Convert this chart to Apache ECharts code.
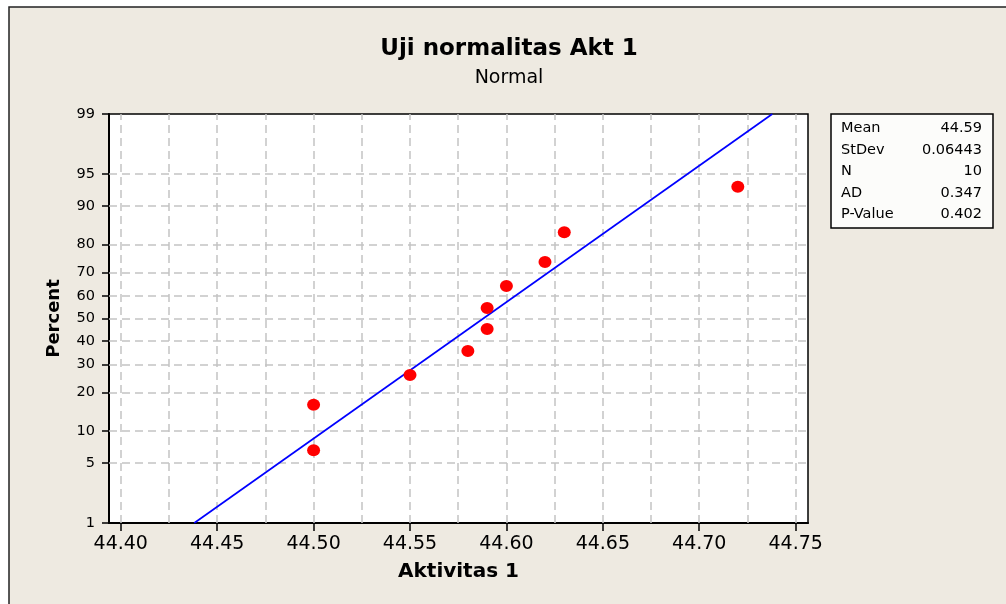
<!DOCTYPE html>
<html>
<head>
<meta charset="utf-8">
<title>Uji normalitas Akt 1</title>
<script src="https://cdn.jsdelivr.net/npm/echarts@6/dist/echarts.min.js"></script>
<style>
  html, body { margin: 0; padding: 0; background: #fff; }
  #chart { width: 1006px; height: 604px; }
</style>
</head>
<body>
<div id="chart"></div>
<script>
// data
const xValues = [44.50, 44.50, 44.55, 44.58, 44.59, 44.59, 44.60, 44.62, 44.63, 44.72]
const percentValues = [6.7, 16.3, 26.0, 35.6, 45.2, 54.8, 64.4, 74.0, 83.7, 93.3]
const yTickPercents = [1, 5, 10, 20, 30, 40, 50, 60, 70, 80, 90, 95, 99]
const yGridPercents = [5, 10, 20, 30, 40, 50, 60, 70, 80, 90, 95]
const xTickValues = [44.40, 44.45, 44.50, 44.55, 44.60, 44.65, 44.70, 44.75]
const xGridValues = [44.40, 44.425, 44.45, 44.475, 44.50, 44.525, 44.55, 44.575, 44.60,
  44.625, 44.65, 44.675, 44.70, 44.725, 44.75]
const statLabels = ['Mean', 'StDev', 'N', 'AD', 'P-Value']
const statValues = ['44.59', '0.06443', '10', '0.347', '0.402']

// inverse normal cdf (Acklam) - the probability scale of the y axis
function normInv (p) {
  const a = [-3.969683028665376e+01, 2.209460984245205e+02, -2.759285104469687e+02, 1.383577518672690e+02, -3.066479806614716e+01, 2.506628277459239e+00]
  const b = [-5.447609879822406e+01, 1.615858368580409e+02, -1.556989798598866e+02, 6.680131188771972e+01, -1.328068155288572e+01]
  const c = [-7.784894002430293e-03, -3.223964580411365e-01, -2.400758277161838e+00, -2.549732539343734e+00, 4.374664141464968e+00, 2.938163982698783e+00]
  const d = [7.784695709041462e-03, 3.224671290700398e-01, 2.445134137142996e+00, 3.754408661907416e+00]
  const pl = 0.02425
  let q, r
  if (p < pl) {
    q = Math.sqrt(-2 * Math.log(p))
    return (((((c[0] * q + c[1]) * q + c[2]) * q + c[3]) * q + c[4]) * q + c[5]) / ((((d[0] * q + d[1]) * q + d[2]) * q + d[3]) * q + 1)
  }
  if (p > 1 - pl) {
    q = Math.sqrt(-2 * Math.log(1 - p))
    return -(((((c[0] * q + c[1]) * q + c[2]) * q + c[3]) * q + c[4]) * q + c[5]) / ((((d[0] * q + d[1]) * q + d[2]) * q + d[3]) * q + 1)
  }
  q = p - 0.5
  r = q * q
  return (((((a[0] * r + a[1]) * r + a[2]) * r + a[3]) * r + a[4]) * r + a[5]) * q / (((((b[0] * r + b[1]) * r + b[2]) * r + b[3]) * r + b[4]) * r + 1)
}
const zOf = pct => normInv(pct / 100)

// fitted normal line from the sample
const n = xValues.length
const mean = xValues.reduce((s, v) => s + v, 0) / n
const sd = Math.sqrt(xValues.reduce((s, v) => s + (v - mean) * (v - mean), 0) / (n - 1))
const zLow = zOf(yTickPercents[0])
const zHigh = zOf(yTickPercents[yTickPercents.length - 1])
const fitLine = [[mean + zLow * sd, zLow], [mean + zHigh * sd, zHigh]]

const points = xValues.map((x, i) => [x, zOf(percentValues[i])])
const yTickZ = yTickPercents.map(zOf)

const gridLines = []
xGridValues.forEach(v => gridLines.push({ xAxis: v }))
yGridPercents.forEach(p => gridLines.push({ yAxis: zOf(p) }))

const font = 'DejaVu Sans'
const statGraphics = []
statLabels.forEach((lab, i) => {
  const y = 128.5 + i * 21.5
  statGraphics.push({
    type: 'text', x: 841, y: y, z: 10,
    style: { text: lab, font: '14.5px "DejaVu Sans"', fill: '#000', textAlign: 'left', textVerticalAlign: 'middle' }
  })
  statGraphics.push({
    type: 'text', x: 982, y: y, z: 10,
    style: { text: statValues[i], font: '14.5px "DejaVu Sans"', fill: '#000', textAlign: 'right', textVerticalAlign: 'middle' }
  })
})

const myChart = echarts.init(document.getElementById('chart'))
const opt = {
  backgroundColor: '#fff',
  animation: false,
  title: {
    text: 'Uji normalitas Akt 1',
    subtext: 'Normal',
    left: 504,
    top: 33,
    textAlign: 'center',
    itemGap: 8,
    textStyle: { fontFamily: font, fontWeight: 'bold', fontSize: 23, color: '#000' },
    subtextStyle: { fontFamily: font, fontSize: 19, color: '#000' }
  },
  graphic: [
    {
      type: 'rect', z: -10, silent: true,
      shape: { x: 9, y: 7, width: 1200, height: 800 },
      style: { fill: '#EEEAE1', stroke: '#222', lineWidth: 1.5 }
    },
    {
      type: 'rect', z: 5, silent: true,
      shape: { x: 831, y: 114, width: 162, height: 114 },
      style: { fill: '#FCFCFA', stroke: '#000', lineWidth: 1.5 }
    }
  ].concat(statGraphics),
  grid: {
    left: 109,
    right: 198,
    top: 114,
    bottom: 81,
    show: true,
    backgroundColor: '#fff',
    borderColor: '#000',
    borderWidth: 1.5
  },
  xAxis: {
    type: 'value',
    min: 44.3939,
    max: 44.7564,
    name: 'Aktivitas 1',
    nameLocation: 'middle',
    nameGap: 39,
    nameTextStyle: { fontFamily: font, fontWeight: 'bold', fontSize: 20, color: '#000' },
    axisLine: { onZero: false, lineStyle: { color: '#000', width: 2 } },
    axisTick: { customValues: xTickValues, length: 8, lineStyle: { color: '#000', width: 1.5 } },
    axisLabel: {
      customValues: xTickValues,
      margin: 12,
      fontFamily: font,
      fontSize: 19,
      color: '#000',
      formatter: v => v.toFixed(2)
    },
    splitLine: { show: false }
  },
  yAxis: {
    type: 'value',
    min: zLow,
    max: zHigh,
    name: 'Percent',
    nameLocation: 'middle',
    nameGap: 46,
    nameTextStyle: { fontFamily: font, fontWeight: 'bold', fontSize: 18, color: '#000' },
    axisLine: { onZero: false, lineStyle: { color: '#000', width: 2 } },
    axisTick: { customValues: yTickZ, length: 7, lineStyle: { color: '#000', width: 1.5 } },
    axisLabel: {
      customValues: yTickZ,
      margin: 14,
      fontFamily: font,
      fontSize: 14.5,
      color: '#000',
      formatter: v => {
        let best = yTickPercents[0]
        yTickPercents.forEach(p => {
          if (Math.abs(zOf(p) - v) < Math.abs(zOf(best) - v)) best = p
        })
        return String(best)
      }
    },
    splitLine: { show: false }
  },
  series: [
    {
      name: 'grid',
      type: 'line',
      data: [],
      silent: true,
      z: 1,
      markLine: {
        z: 1,
        silent: true,
        symbol: 'none',
        precision: 4,
        label: { show: false },
        lineStyle: { type: [8, 5], color: '#C4C4C4', width: 1.5 },
        data: gridLines,
        animation: false
      }
    },
    {
      name: 'fit',
      type: 'line',
      data: fitLine,
      showSymbol: false,
      symbol: 'none',
      z: 3,
      lineStyle: { color: '#0000FF', width: 1.7 }
    },
    {
      name: 'Aktivitas 1',
      type: 'scatter',
      data: points,
      z: 4,
      symbol: 'circle',
      symbolSize: [13, 12],
      itemStyle: { color: '#FF0000', opacity: 1 }
    }
  ]
}
myChart.setOption(opt, true)
window.addEventListener('resize', () => myChart.resize())
</script>
</body>
</html>
